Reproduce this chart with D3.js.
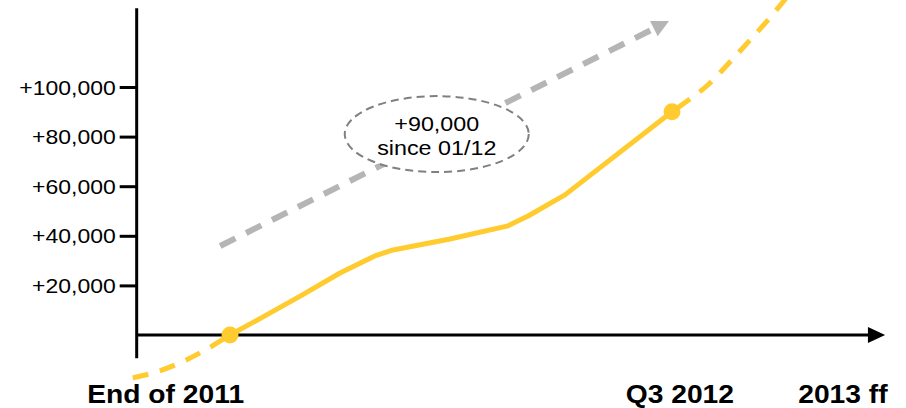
<!DOCTYPE html>
<html>
<head>
<meta charset="utf-8">
<script src="https://cdn.jsdelivr.net/npm/d3@7"></script>
<style>
  html, body { margin: 0; padding: 0; background: #ffffff; }
  svg { display: block; }
  text { font-family: "Liberation Sans", Arial, sans-serif; fill: #000; }
</style>
</head>
<body>
<svg id="chart" width="906" height="408"></svg>
<script>
// Months since the end of 2011 and additional residents (thousands)
const pastMonths   = [-1.98, -1.5, -1.0, -0.5, 0];
const pastValues   = [-17.3, -14.9, -11.1, -6.0, 0];

const actualMonths = [0, 0.71, 1.43, 2.24, 2.95, 3.32, 4.48, 5.66, 6.07, 6.82, 9];
const actualValues = [0, 7.7, 15.7, 25.0, 31.9, 34.3, 38.7, 44.0, 48.0, 56.5, 90.0];

const futureMonths = [9, 9.37, 9.73, 10.18, 10.63, 11.04, 11.45];
const futureValues = [90.0, 95.2, 100.8, 110.1, 119.8, 129.0, 139.0];

const highlightMonths = [0, 9];
const highlightValues = [0, 90.0];

const yTickValues = [20, 40, 60, 80, 100];

const xLabels      = ["End of 2011", "Q3 2012", "2013 ff"];
const xLabelMonths = [-1.31, 9.16, 12.48];

// Trend annotation (start and tip of the arrow, centre of the callout)
const trendMonths = [-0.2, 8.94];
const trendValues = [35.9, 126.6];
const calloutMonth = 4.21;
const calloutValue = 81.0;
const calloutLines = ["+90,000", "since 01/12"];

const svg = d3.select("#chart");

const x = d3.scaleLinear().domain([0, 9]).range([230, 672]);
const y = d3.scaleLinear().domain([0, 100]).range([335, 87]);

const yellow = "#FFCB2F";

// Horizontally widened text helper
function label(g, px, py, str, opts) {
  return g.append("text")
    .attr("transform", `translate(${px},${py}) scale(${opts.sx},1)`)
    .attr("text-anchor", opts.anchor || "middle")
    .style("font-size", opts.size + "px")
    .style("font-weight", opts.weight || "normal")
    .text(str);
}

// Trend arrow (drawn first so the callout sits on top)
const ax0 = x(trendMonths[0]), ay0 = y(trendValues[0]);
const ax1 = x(trendMonths[1]), ay1 = y(trendValues[1]);
const ang = Math.atan2(ay1 - ay0, ax1 - ax0);
const headLen = 17, headHalf = 8.5;
const bx = ax1 - headLen * Math.cos(ang), by = ay1 - headLen * Math.sin(ang);
svg.append("line")
  .attr("x1", ax0).attr("y1", ay0).attr("x2", bx).attr("y2", by)
  .attr("stroke", "#b5b5b5").attr("stroke-width", 6)
  .attr("stroke-dasharray", "17,12");
svg.append("path")
  .attr("d", d3.line()([
    [ax1, ay1],
    [bx + headHalf * Math.sin(ang), by - headHalf * Math.cos(ang)],
    [bx - headHalf * Math.sin(ang), by + headHalf * Math.cos(ang)]
  ]) + "Z")
  .attr("fill", "#b5b5b5");

// Callout
const cx = x(calloutMonth), cy = y(calloutValue);
svg.append("ellipse")
  .attr("cx", cx).attr("cy", cy).attr("rx", 92).attr("ry", 38)
  .attr("fill", "#fff").attr("stroke", "#808080").attr("stroke-width", 2)
  .attr("stroke-dasharray", "8,5");
label(svg, cx, cy - 3, calloutLines[0], {size: 21, sx: 1.11});
label(svg, cx, cy + 21, calloutLines[1], {size: 21, sx: 1.11});

// Axes
const axisG = svg.append("g");
axisG.append("line")
  .attr("x1", x(-1.9)).attr("x2", x(13.0))
  .attr("y1", y(0)).attr("y2", y(0))
  .attr("stroke", "#000").attr("stroke-width", 3);
axisG.append("path")
  .attr("d", d3.line()([[x(13.34), y(0)], [x(12.99), y(0) - 8], [x(12.99), y(0) + 8]]) + "Z")
  .attr("fill", "#000");
axisG.append("line")
  .attr("x1", x(-1.9)).attr("x2", x(-1.9))
  .attr("y1", y(131.8)).attr("y2", y(-9.4))
  .attr("stroke", "#000").attr("stroke-width", 3);

const yAxis = svg.append("g")
  .attr("transform", `translate(${x(-1.9)},0)`)
  .call(d3.axisLeft(y).tickValues(yTickValues).tickSize(17).tickFormat(() => ""));
yAxis.select(".domain").remove();
yAxis.selectAll(".tick line").attr("stroke", "#000").attr("stroke-width", 3);
yTickValues.forEach(v => {
  label(svg, x(-1.9) - 21, y(v) + 7.5, "+" + d3.format(",")(v * 1000),
        {size: 20.5, anchor: "end", sx: 1.12});
});

// X labels
xLabels.forEach((t, i) => {
  label(svg, x(xLabelMonths[i]), 403, t, {size: 25, weight: "bold", sx: 1.13});
});

// Series
const line = d3.line().x(d => x(d[0])).y(d => y(d[1]));
const curved = d3.line().x(d => x(d[0])).y(d => y(d[1])).curve(d3.curveMonotoneX);

svg.append("path")
  .attr("d", curved(d3.zip(pastMonths, pastValues)))
  .attr("fill", "none").attr("stroke", yellow).attr("stroke-width", 5)
  .attr("stroke-dasharray", "16,12");
svg.append("path")
  .attr("d", curved(d3.zip(futureMonths, futureValues)))
  .attr("fill", "none").attr("stroke", yellow).attr("stroke-width", 5)
  .attr("stroke-dasharray", "16,12").attr("stroke-dashoffset", -6);
svg.append("path")
  .attr("d", line(d3.zip(actualMonths, actualValues)))
  .attr("fill", "none").attr("stroke", yellow).attr("stroke-width", 5)
  .attr("stroke-linejoin", "round");

svg.selectAll("circle.hl")
  .data(d3.zip(highlightMonths, highlightValues))
  .join("circle").attr("class", "hl")
  .attr("cx", d => x(d[0])).attr("cy", d => y(d[1])).attr("r", 8.5)
  .attr("fill", yellow);
</script>
</body>
</html>
